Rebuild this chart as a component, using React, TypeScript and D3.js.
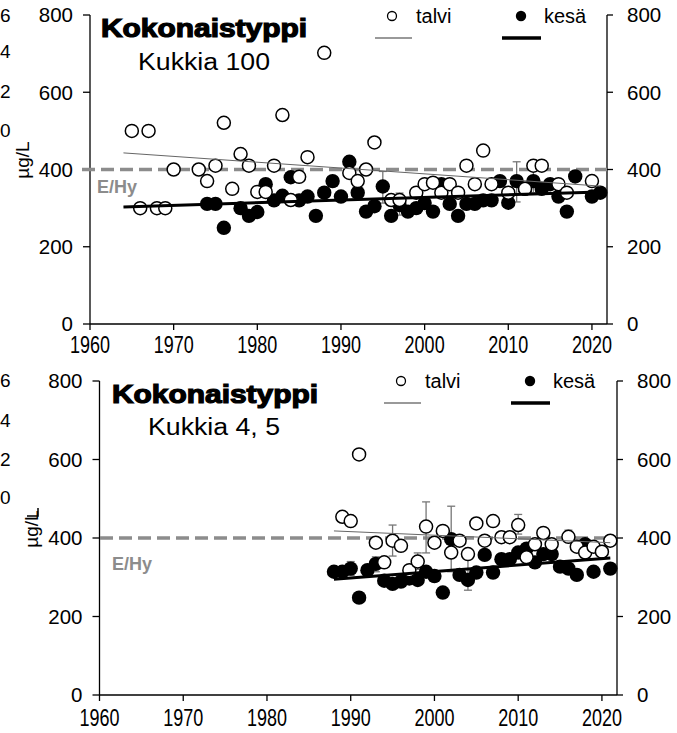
import React from "react";
import * as d3 from "d3";

// ---------- DATA ----------
const yearTicks = [1960, 1970, 1980, 1990, 2000, 2010, 2020];
const valueTicks = [0, 200, 400, 600, 800];
const limitValue = 400;

// Top panel: Kukkia 100
const topTalviYears = [1965, 1966, 1967, 1968, 1969, 1970, 1973, 1974, 1975, 1976, 1977, 1978, 1979, 1980, 1981, 1982, 1983, 1984, 1985, 1986, 1988, 1991, 1992, 1993, 1994, 1996, 1997, 1999, 2000, 2001, 2002, 2003, 2004, 2005, 2006, 2007, 2008, 2010, 2012, 2013, 2014, 2016, 2017, 2020];
const topTalviValues = [500, 300, 500, 300, 300, 400, 400, 370, 410, 521, 350, 440, 410, 342, 342, 410, 541, 321, 381, 432, 702, 391, 370, 400, 470, 321, 321, 340, 362, 366, 340, 362, 340, 410, 362, 449, 362, 340, 350, 410, 410, 362, 340, 370];
const topKesaYears = [1974, 1975, 1976, 1978, 1979, 1980, 1981, 1982, 1983, 1984, 1985, 1986, 1987, 1988, 1989, 1990, 1991, 1992, 1993, 1994, 1995, 1996, 1997, 1998, 1999, 2000, 2001, 2002, 2003, 2004, 2005, 2006, 2007, 2008, 2009, 2010, 2011, 2012, 2013, 2014, 2015, 2016, 2017, 2018, 2020, 2021];
const topKesaValues = [311, 311, 249, 300, 280, 290, 362, 320, 332, 380, 320, 330, 280, 340, 370, 330, 420, 340, 291, 305, 356, 280, 308, 291, 300, 313, 291, 362, 311, 280, 311, 311, 320, 320, 370, 314, 370, 350, 370, 350, 362, 330, 291, 382, 330, 340];
const topErrYears = [1995, 1997, 2010, 2011, 2013];
const topErrLow = [313, 282, 302, 316, 340];
const topErrHigh = [395, 339, 340, 420, 410];
const topTalviTrendYears = [1964, 2021];
const topTalviTrendValues = [443, 357];
const topKesaTrendYears = [1964, 2021];
const topKesaTrendValues = [303, 342];

// Bottom panel: Kukkia 4, 5
const botTalviYears = [1989, 1990, 1991, 1993, 1994, 1995, 1996, 1997, 1998, 1999, 2000, 2001, 2002, 2003, 2004, 2005, 2006, 2007, 2008, 2009, 2010, 2011, 2012, 2013, 2014, 2016, 2017, 2018, 2019, 2020, 2021];
const botTalviValues = [454, 443, 613, 388, 338, 393, 380, 318, 340, 429, 388, 418, 363, 393, 359, 437, 393, 443, 402, 402, 433, 351, 384, 413, 384, 403, 378, 363, 378, 365, 393];
const botKesaYears = [1988, 1989, 1990, 1991, 1992, 1993, 1994, 1995, 1996, 1997, 1998, 1999, 2000, 2001, 2002, 2003, 2004, 2005, 2006, 2007, 2008, 2009, 2010, 2011, 2012, 2013, 2014, 2015, 2016, 2017, 2018, 2019, 2021];
const botKesaValues = [314, 314, 322, 248, 318, 334, 291, 283, 289, 297, 293, 314, 303, 261, 397, 306, 293, 312, 357, 312, 346, 346, 363, 373, 338, 359, 359, 327, 322, 306, 384, 314, 322];
const botErrYears = [1990, 1993, 1995, 1998, 1999, 2002, 2004, 2010, 2016];
const botErrLow = [305, 314, 354, 320, 362, 314, 267, 410, 390];
const botErrHigh = [340, 352, 433, 362, 492, 481, 350, 460, 420];
const botTalviTrendYears = [1988, 2021];
const botTalviTrendValues = [418, 388];
const botKesaTrendYears = [1988, 2021];
const botKesaTrendValues = [295, 349];

const clippedLabels = ["6", "4", "2", "0"];

// ---------- HELPERS ----------
const FONT = "'Liberation Sans', Arial, sans-serif";
const zip = (xs: number[], ys: number[]) => xs.map((x, i) => ({ x, y: ys[i] }));

type PanelProps = {
  left: number; right: number; top: number; bottom: number;
  subtitle: string;
  talvi: { x: number; y: number }[];
  kesa: { x: number; y: number }[];
  err: { x: number; lo: number; hi: number }[];
  talviTrend: { x: number; y: number }[];
  kesaTrend: { x: number; y: number }[];
  titleX: number; titleY: number; subX: number; subY: number;
  legendX: number; legendY: number;
  unitX: number; unitY: number;
  ehyX: number; ehyY: number;
  xLabelY: number;
  dashStart: number;
  clipY: number[];
};

function Panel(p: PanelProps) {
  const x = d3.scaleLinear().domain([1960, 2021.8]).range([p.left, p.right]);
  const y = d3.scaleLinear().domain([0, 800]).range([p.bottom, p.top]);
  const line = d3.line<{ x: number; y: number }>().x(d => x(d.x)).y(d => y(d.y));
  const r = 7.2;
  return (
    <g fontFamily={FONT}>
      {/* labels from neighbouring chart at the left edge */}
      {clippedLabels.map((t, i) => (
        <text key={"c" + i} x={0} y={p.clipY[i] + 7} fontSize={19} textAnchor="start" fill="#000">{t}</text>
      ))}
      {/* axes */}
      <line x1={p.left} x2={p.left} y1={p.top} y2={p.bottom} stroke="#000" strokeWidth={1.3} />
      <line x1={p.right} x2={p.right} y1={p.top} y2={p.bottom} stroke="#000" strokeWidth={1.3} />
      <line x1={p.left} x2={p.right} y1={p.bottom} y2={p.bottom} stroke="#000" strokeWidth={1.3} />
      {valueTicks.map(v => (
        <g key={"v" + v}>
          <line x1={p.left - 7} x2={p.left} y1={y(v)} y2={y(v)} stroke="#000" strokeWidth={1.3} />
          <line x1={p.right} x2={p.right + 6} y1={y(v)} y2={y(v)} stroke="#000" strokeWidth={1.3} />
          <text x={p.left - 17} y={y(v) + 7.3} fontSize={20.5} textAnchor="end">{v}</text>
          <text x={p.right + 20} y={y(v) + 7.3} fontSize={20.5} textAnchor="start">{v}</text>
        </g>
      ))}
      {yearTicks.map(t => (
        <g key={"t" + t}>
          <line x1={x(t)} x2={x(t)} y1={p.bottom} y2={p.bottom + 6} stroke="#000" strokeWidth={1.3} />
          <text transform={`translate(${x(t)},${p.xLabelY}) scale(1,1.35)`} fontSize={18} textAnchor="middle">{t}</text>
        </g>
      ))}
      <text transform={`translate(${p.unitX},${p.unitY}) rotate(-90)`} fontSize={19} textAnchor="middle">µg/L</text>
      {/* limit line */}
      <line x1={p.dashStart} x2={p.right} y1={y(limitValue)} y2={y(limitValue)} stroke="#8c8c8c" strokeWidth={3.6} strokeDasharray="13,6" />
      <text x={p.ehyX} y={p.ehyY} fontSize={18} fontWeight="bold" fill="#8c8c8c">E/Hy</text>
      {/* error bars */}
      {p.err.map((e, i) => (
        <g key={"e" + i} stroke="#777" strokeWidth={1.3}>
          <line x1={x(e.x)} x2={x(e.x)} y1={y(e.lo)} y2={y(e.hi)} />
          <line x1={x(e.x) - 4} x2={x(e.x) + 4} y1={y(e.lo)} y2={y(e.lo)} />
          <line x1={x(e.x) - 4} x2={x(e.x) + 4} y1={y(e.hi)} y2={y(e.hi)} />
        </g>
      ))}
      {/* points */}
      {p.kesa.map((d, i) => (
        <circle key={"k" + i} cx={x(d.x)} cy={y(d.y)} r={r} fill="#000" />
      ))}
      {p.talvi.map((d, i) => (
        <circle key={"w" + i} cx={x(d.x)} cy={y(d.y)} r={r - 0.7} fill="#fff" stroke="#000" strokeWidth={1.5} />
      ))}
      {/* trends */}
      <path d={line(p.talviTrend) || ""} stroke="#666" strokeWidth={1} fill="none" />
      <path d={line(p.kesaTrend) || ""} stroke="#000" strokeWidth={3} fill="none" />
      {/* titles */}
      <text x={p.titleX} y={p.titleY} fontSize={25} fontWeight="bold" stroke="#000" strokeWidth={1.2} textLength={206} lengthAdjust="spacingAndGlyphs">Kokonaistyppi</text>
      <text x={p.subX} y={p.subY} fontSize={23.5} textLength={132} lengthAdjust="spacingAndGlyphs">{p.subtitle}</text>
      {/* legend */}
      <g>
        <circle cx={p.legendX} cy={p.legendY} r={4.5} fill="#fff" stroke="#000" strokeWidth={1.3} />
        <text x={p.legendX + 24} y={p.legendY + 7} fontSize={20}>talvi</text>
        <line x1={p.legendX - 17} x2={p.legendX + 20} y1={p.legendY + 22} y2={p.legendY + 22} stroke="#999" strokeWidth={1.8} />
        <circle cx={p.legendX + 129} cy={p.legendY} r={5.2} fill="#000" />
        <text x={p.legendX + 152} y={p.legendY + 7} fontSize={20}>kesä</text>
        <line x1={p.legendX + 110} x2={p.legendX + 149} y1={p.legendY + 22} y2={p.legendY + 22} stroke="#000" strokeWidth={3.5} />
      </g>
    </g>
  );
}

export default function App() {
  return (
    <svg width={677} height={733} style={{ position: "absolute", left: 0, top: 0, background: "#fff" }}>
      <rect width={677} height={733} fill="#fff" />
      <Panel
        left={90} right={607} top={15} bottom={324}
        subtitle="Kukkia 100"
        talvi={zip(topTalviYears, topTalviValues)}
        kesa={zip(topKesaYears, topKesaValues)}
        err={topErrYears.map((x, i) => ({ x, lo: topErrLow[i], hi: topErrHigh[i] }))}
        talviTrend={zip(topTalviTrendYears, topTalviTrendValues)}
        kesaTrend={zip(topKesaTrendYears, topKesaTrendValues)}
        titleX={101} titleY={37} subX={138} subY={70}
        legendX={392} legendY={16}
        unitX={29} unitY={160}
        ehyX={97} ehyY={193}
        xLabelY={353}
        dashStart={82}
        clipY={[14.5, 51, 91, 130]}
      />
      <Panel
        left={99.5} right={617} top={381} bottom={695}
        subtitle="Kukkia 4, 5"
        talvi={zip(botTalviYears, botTalviValues)}
        kesa={zip(botKesaYears, botKesaValues)}
        err={botErrYears.map((x, i) => ({ x, lo: botErrLow[i], hi: botErrHigh[i] }))}
        talviTrend={zip(botTalviTrendYears, botTalviTrendValues)}
        kesaTrend={zip(botKesaTrendYears, botKesaTrendValues)}
        titleX={112} titleY={403} subX={148} subY={435}
        legendX={401} legendY={381}
        unitX={38} unitY={529}
        ehyX={112} ehyY={570}
        xLabelY={726}
        dashStart={100}
        clipY={[380, 420, 459, 497]}
      />
      <path d="M27,516 H38 V508" stroke="#000" strokeWidth={1.5} fill="none" />
    </svg>
  );
}
